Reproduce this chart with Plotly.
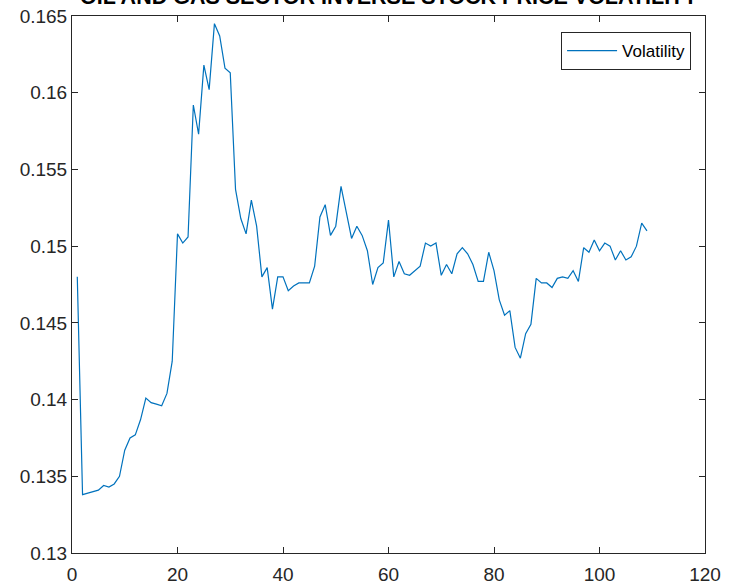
import plotly.graph_objects as go

# Inverse stock price volatility for the oil and gas sector, by period
periods = list(range(1, 110))
volatility = [
    0.1480, 0.1338, 0.1339, 0.1340, 0.1341, 0.1344, 0.1343, 0.1345, 0.1350, 0.1367,
    0.1375, 0.1377, 0.1387, 0.1401, 0.1398, 0.1397, 0.1396, 0.1404, 0.1425, 0.1508,
    0.1502, 0.1506, 0.1592, 0.1573, 0.1618, 0.1602, 0.1645, 0.1637, 0.1616, 0.1613,
    0.1537, 0.1518, 0.1508, 0.1530, 0.1513, 0.1480, 0.1486, 0.1459, 0.1480, 0.1480,
    0.1471, 0.1474, 0.1476, 0.1476, 0.1476, 0.1487, 0.1519, 0.1527, 0.1507, 0.1513,
    0.1539, 0.1522, 0.1505, 0.1513, 0.1507, 0.1497, 0.1475, 0.1486, 0.1489, 0.1517,
    0.1480, 0.1490, 0.1482, 0.1481, 0.1484, 0.1487, 0.1502, 0.1500, 0.1502, 0.1481,
    0.1488, 0.1482, 0.1495, 0.1499, 0.1495, 0.1488, 0.1477, 0.1477, 0.1496, 0.1484,
    0.1465, 0.1455, 0.1458, 0.1434, 0.1427, 0.1443, 0.1449, 0.1479, 0.1476, 0.1476,
    0.1473, 0.1479, 0.1480, 0.1479, 0.1484, 0.1477, 0.1499, 0.1496, 0.1504, 0.1497,
    0.1502, 0.1500, 0.1491, 0.1497, 0.1491, 0.1493, 0.1500, 0.1515, 0.1510,
]

x_ticks = [0, 20, 40, 60, 80, 100, 120]
x_tick_labels = ["0", "20", "40", "60", "80", "100", "120"]
y_ticks = [0.13, 0.135, 0.14, 0.145, 0.15, 0.155, 0.16, 0.165]
y_tick_labels = ["0.13", "0.135", "0.14", "0.145", "0.15", "0.155", "0.16", "0.165"]

title_text = "OIL AND GAS SECTOR INVERSE STOCK PRICE VOLATILITY"

axis_color = "#262626"
font_family = "Liberation Sans, Arial, sans-serif"

fig = go.Figure()
fig.add_trace(go.Scatter(
    x=periods,
    y=volatility,
    mode="lines",
    name="Volatility",
    line=dict(color="#0072BD", width=1.2),
))

axis_common = dict(
    showline=True,
    linecolor=axis_color,
    linewidth=1,
    mirror="ticks",
    ticks="inside",
    ticklen=6,
    tickwidth=1,
    tickcolor=axis_color,
    showgrid=False,
    zeroline=False,
    automargin=False,
    tickfont=dict(family=font_family, size=19, color=axis_color),
)

fig.update_layout(
    width=742,
    height=588,
    autosize=False,
    margin=dict(l=72, r=37, t=16, b=35, pad=0),
    paper_bgcolor="white",
    plot_bgcolor="white",
    showlegend=True,
    legend=dict(
        x=0.978, y=0.970, xanchor="right", yanchor="top",
        bgcolor="white",
        bordercolor=axis_color,
        borderwidth=1,
        font=dict(family=font_family, size=17, color="#000000"),
        itemwidth=50,
    ),
    xaxis=dict(range=[0, 120], tickvals=x_ticks, ticktext=x_tick_labels,
               ticklabelstandoff=4, **axis_common),
    yaxis=dict(range=[0.13, 0.165], tickvals=y_ticks, ticktext=y_tick_labels, **axis_common),
    annotations=[dict(
        text="<b>" + title_text + "</b>",
        xref="paper", yref="paper",
        x=0.5, y=1, xanchor="center", yanchor="bottom",
        yshift=5,
        showarrow=False,
        font=dict(family=font_family, size=21.5, color="#000000"),
    )],
)

fig.write_html("out.html")
